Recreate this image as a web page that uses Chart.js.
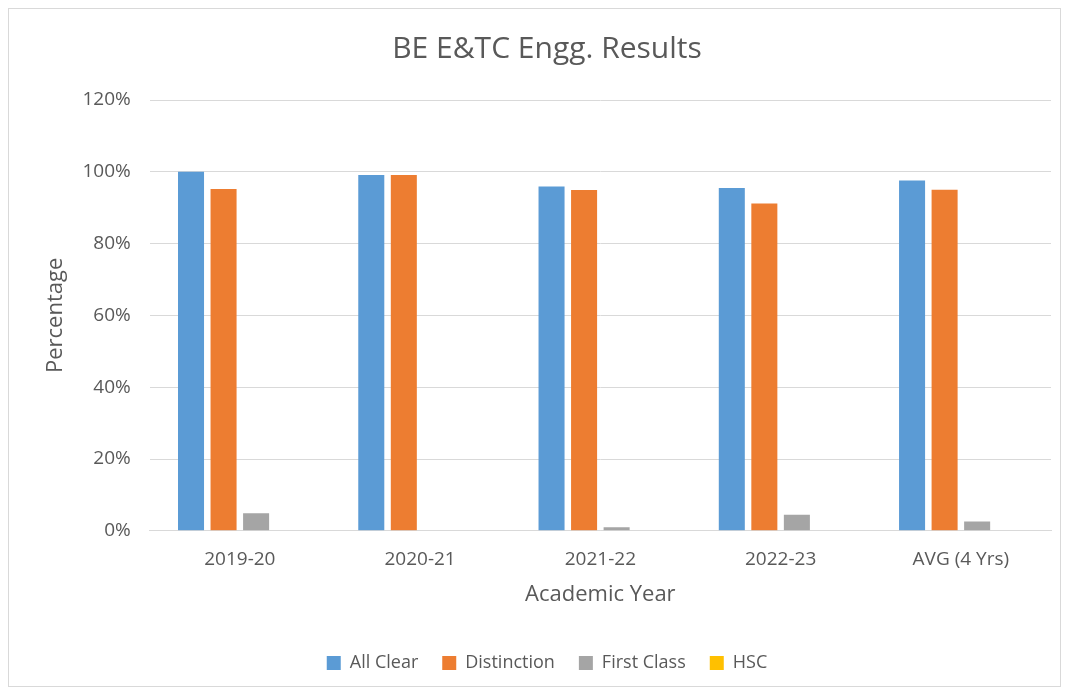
<!DOCTYPE html>
<html>
<head>
<meta charset="utf-8">
<script src="https://cdn.jsdelivr.net/npm/chart.js@4"></script>
<style>
  html, body { margin: 0; padding: 0; background: #fff; }
  #frame {
    position: absolute; left: 8px; top: 8px;
    width: 1051px; height: 677px;
    border: 1px solid #d9d9d9;
  }
</style>
</head>
<body>
<div id="frame"><canvas id="grafico"></canvas></div>
<script>
// dados
const anos = ["2019-20", "2020-21", "2021-22", "2022-23", "AVG (4 Yrs)"];
const allClear = [100, 99.1, 95.9, 95.5, 97.6];
const distinction = [95.2, 99.1, 94.9, 91.2, 95.0];
const firstClass = [4.9, 0, 1.0, 4.5, 2.6];
const hsc = [0, 0, 0, 0, 0];
const yTicks = [0, 20, 40, 60, 80, 100, 120];

const fonte = "'Open Sans', 'Liberation Sans', sans-serif";
const cinza = '#595959';

function serie(label, data, cor) {
    return {
        label: label,
        data: data,
        backgroundColor: cor,
        borderWidth: 0,
        barPercentage: 0.8,
        categoryPercentage: 0.722
    };
}

const ctx = document.getElementById('grafico').getContext('2d');
new Chart(ctx, {
    type: 'bar',
    data: {
        labels: anos,
        datasets: [
            serie('All Clear', allClear, '#5b9bd5'),
            serie('Distinction', distinction, '#ed7d31'),
            serie('First Class', firstClass, '#a5a5a5'),
            serie('HSC', hsc, '#ffc000')
        ]
    },
    options: {
        responsive: true,
        maintainAspectRatio: false,
        animation: false,
        layout: { padding: { left: 34, right: 9, top: 0, bottom: 4 } },
        plugins: {
            title: {
                display: true,
                text: 'BE E&TC Engg. Results',
                color: cinza,
                font: { family: fonte, size: 30, weight: 'normal' },
                padding: { top: 22, bottom: 33 }
            },
            legend: {
                position: 'bottom',
                labels: {
                    color: cinza,
                    font: { family: fonte, size: 18 },
                    boxWidth: 14,
                    boxHeight: 14,
                    padding: 24
                }
            },
            tooltip: { enabled: false }
        },
        scales: {
            x: {
                grid: { display: false },
                border: { color: '#d9d9d9', width: 1 },
                ticks: { color: cinza, font: { family: fonte, size: 19 }, padding: 9 },
                title: {
                    display: true,
                    text: 'Academic Year',
                    color: cinza,
                    font: { family: fonte, size: 22 },
                    padding: { top: 2, bottom: 22 }
                }
            },
            y: {
                min: 0,
                max: 120,
                afterBuildTicks: (axis) => { axis.ticks = yTicks.map(v => ({ value: v })); },
                grid: { color: '#d9d9d9', lineWidth: 1, drawTicks: false },
                border: { display: false },
                ticks: {
                    color: cinza,
                    font: { family: fonte, size: 19 },
                    padding: 19,
                    callback: (v) => v + '%'
                },
                title: {
                    display: true,
                    text: 'Percentage',
                    color: cinza,
                    font: { family: fonte, size: 22 },
                    padding: { top: 0, bottom: -6 }
                }
            }
        }
    }
});
</script>
</body>
</html>
